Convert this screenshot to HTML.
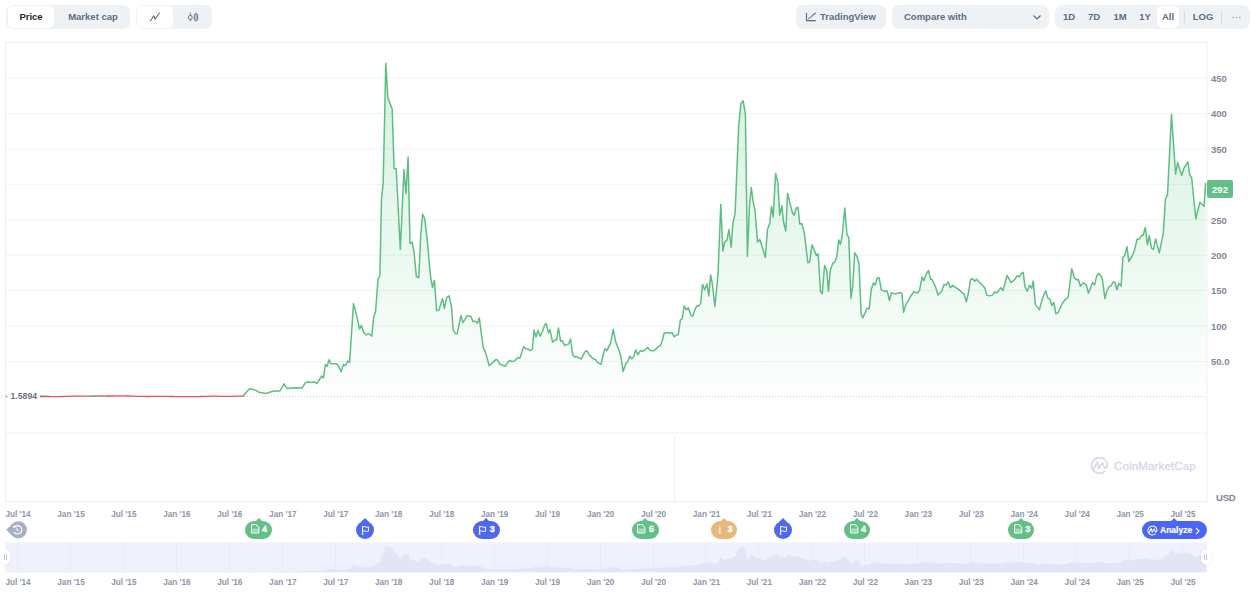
<!DOCTYPE html>
<html><head><meta charset="utf-8"><style>
*{box-sizing:border-box;margin:0;padding:0}
html,body{width:1250px;height:612px;overflow:hidden;background:#fff;font-family:"Liberation Sans",sans-serif}
.abs{position:absolute}
.grp{position:absolute;top:5px;height:24px;background:#eff2f5;border-radius:7px}
.btn{position:absolute;top:1px;height:22px;border-radius:5px;font-size:9.5px;font-weight:bold;color:#5e6b82;line-height:22px;text-align:center}
.on{background:#fff}
.yl{position:absolute;left:1211px;font-size:9.5px;font-weight:bold;color:#7f8799;line-height:12px}
.xl{position:absolute;width:40px;text-align:center;font-size:8.2px;font-weight:bold;color:#8e95a8;line-height:12px}
.mk{position:absolute;top:520.5px;height:18.5px;border-radius:9.25px;color:#fff}
.mk b{position:absolute;top:-0.6px;font-weight:bold;font-size:9px;line-height:19px;-webkit-text-stroke:0.35px #fff}
.ptr{position:absolute;top:517.5px;width:0;height:0;border-left:4px solid transparent;border-right:4px solid transparent;border-bottom:4.5px solid}
.ii{position:absolute;top:0;font-weight:bold;font-size:10px;line-height:19px;color:rgba(255,255,255,0.75)}
</style></head><body>
<div class="grp" style="left:6px;width:124px">
  <div class="btn on" style="left:2px;width:46px;color:#222531">Price</div>
  <div class="btn" style="left:54px;width:66px">Market cap</div>
</div>
<div class="grp" style="left:136px;width:76px">
  <div class="btn on" style="left:1px;width:36px"><svg class="abs" style="left:0;top:0" width="36" height="22" viewBox="0 0 36 22"><path d="M13.5 14.8 L16.7 9.8 L18.1 13.2 L22.3 7" fill="none" stroke="#58667e" stroke-width="1.1" stroke-linejoin="round" stroke-linecap="round"/></svg></div>
  <div class="btn" style="left:40px;width:34px"><svg class="abs" style="left:0;top:0" width="34" height="22" viewBox="0 0 34 22"><g stroke="#6b768c" stroke-width="1"><rect x="12.6" y="9.6" width="3.4" height="3.8" rx="1" fill="none"/><path d="M14.3 6.6 V9.6 M14.3 13.4 V15.4"/><rect x="18.3" y="8.2" width="3.4" height="6.2" rx="1" fill="#b9bfcb"/><path d="M20 6.6 V8.2 M20 14.4 V15.4"/></g></svg></div>
</div>

<div class="grp" style="left:796px;width:90px">
  <svg class="abs" style="left:9px;top:6px" width="12" height="12" viewBox="0 0 12 12"><path d="M1.5 2 V9.6 H10.8" fill="none" stroke="#58667e" stroke-width="1.1"/><path d="M3.2 7.6 C5.2 7.6 6.2 6.2 7.2 4.8 C8.1 3.4 8.9 2.4 10.8 2.4" fill="none" stroke="#58667e" stroke-width="1.1"/></svg>
  <div class="btn" style="left:24px;width:60px;text-align:left">TradingView</div>
</div>
<div class="grp" style="left:892px;width:157px">
  <div class="btn" style="left:12px;width:80px;text-align:left">Compare with</div>
  <svg class="abs" style="left:140px;top:9px" width="10" height="7" viewBox="0 0 10 7"><path d="M1.5 1.5 L5 5 L8.5 1.5" fill="none" stroke="#58667e" stroke-width="1.2"/></svg>
</div>
<div class="grp" style="left:1055px;width:195px">
  <div class="btn" style="left:5px;width:18px">1D</div>
  <div class="btn" style="left:30px;width:18px">7D</div>
  <div class="btn" style="left:55px;width:20px">1M</div>
  <div class="btn" style="left:81px;width:18px">1Y</div>
  <div class="btn on" style="left:102px;width:22px">All</div>
  <div class="abs" style="left:129px;top:6px;width:1px;height:12px;background:#d5dae3"></div>
  <div class="btn" style="left:134px;width:28px">LOG</div>
  <div class="abs" style="left:166px;top:6px;width:1px;height:12px;background:#d5dae3"></div>
  <svg class="abs" style="left:177px;top:11px" width="10" height="3" viewBox="0 0 10 3"><circle cx="1.3" cy="1.5" r="0.8" fill="#8a93a6"/><circle cx="4.6" cy="1.5" r="0.8" fill="#8a93a6"/><circle cx="7.9" cy="1.5" r="0.8" fill="#8a93a6"/></svg>
</div>

<svg class="abs" style="left:0;top:0" width="1250" height="612">
  <defs>
    <linearGradient id="gf" x1="0" y1="60" x2="0" y2="396.5" gradientUnits="userSpaceOnUse">
      <stop offset="0" stop-color="#27b866" stop-opacity="0.20"/>
      <stop offset="1" stop-color="#27b866" stop-opacity="0.01"/>
    </linearGradient>
    <filter id="sh" x="-50%" y="-50%" width="200%" height="200%"><feDropShadow dx="0" dy="0.5" stdDeviation="1" flood-color="#000" flood-opacity="0.12"/></filter>
  </defs>
  <rect x="5.5" y="42.5" width="1201.5" height="459" fill="none" stroke="#eeeeee" stroke-width="1"/>
  <g stroke="#f2f2f2" stroke-width="1"><line x1="6" x2="1207" y1="78.08" y2="78.08"/><line x1="6" x2="1207" y1="113.50" y2="113.50"/><line x1="6" x2="1207" y1="148.92" y2="148.92"/><line x1="6" x2="1207" y1="184.34" y2="184.34"/><line x1="6" x2="1207" y1="219.76" y2="219.76"/><line x1="6" x2="1207" y1="255.18" y2="255.18"/><line x1="6" x2="1207" y1="290.60" y2="290.60"/><line x1="6" x2="1207" y1="326.02" y2="326.02"/><line x1="6" x2="1207" y1="361.44" y2="361.44"/>
  <line x1="6" x2="1207" y1="432.9" y2="432.9"/></g>
  <path d="M243.5 395.2 L249.8 388.6 L256 390.4 L258.8 392.2 L266 393.6 L268.7 392.5 L274 391 L280 391 L284 383.9 L287.2 388.6 L292 388 L296.5 387.7 L302 388 L305.5 382.6 L309 381.7 L311.8 382.6 L313.6 381.7 L317.2 383.2 L321.7 376 L323.5 377.8 L325.3 364.6 L327.1 366.4 L329 359.8 L331 363.7 L336 363.7 L338 365.2 L341.2 371.8 L343.3 364.6 L345.5 365.5 L347.8 361 L349.6 362.3 L353.5 303.6 L357.1 317.1 L359.5 329 L361.4 325.4 L363.8 332.5 L366.1 334.9 L368.5 333.7 L371.8 336.1 L373.7 317.1 L375.6 311.2 L378 279.2 L379.9 275.6 L381.5 199.1 L383.2 183 L385.8 63.3 L387.9 97.7 L392.2 109 L394.1 168.8 L396.2 168.8 L400.3 249.5 L404 169.5 L406 193.7 L408.1 157 L410 243.6 L412.1 242 L414 251.9 L416.4 276.8 L418.8 277.5 L420.7 235.3 L422.6 214 L424.7 218.7 L427 237.7 L430.6 276.8 L432.5 287.5 L434.4 280.4 L436.6 310.7 L438.9 310 L442.5 298.6 L444.4 308.4 L446.7 297.4 L449.1 295.8 L451.5 306.5 L453.2 330.2 L455.5 333.7 L457.2 333.7 L461 315.5 L462.9 322.6 L465 319.4 L467.2 315.7 L470.9 316.5 L473.1 321.6 L475.3 321.3 L477.5 323.1 L479.3 317.9 L481.2 332.6 L483.4 348.1 L485.3 351.8 L489.3 365.7 L492.9 362.4 L495.9 359.6 L497.6 359.9 L500 364.3 L502.5 365.3 L505.4 366.2 L507.9 361.8 L509.9 360.3 L512.1 361.6 L515 360.6 L517.9 357.6 L520.1 357.9 L522.4 350.3 L523.8 346.6 L526 348.8 L528.2 349.1 L530.4 350.7 L532.4 348.8 L534.1 330.1 L536 337.1 L537.9 330.4 L540.3 336.3 L542.6 331.2 L544.7 325 L546.2 323.5 L548.5 332.9 L550 329.7 L552.5 342.2 L554.7 340 L556.6 340 L558.4 327.9 L560.6 341.2 L562.4 340.7 L564.7 345.6 L567.2 344.4 L568.7 344.1 L570.6 339 L572.6 354.4 L575 357.2 L576.8 356.6 L581.2 359.1 L584.9 351.8 L586.8 350.7 L589.7 355.4 L593.7 359.1 L595.6 359.6 L597.4 362.4 L601 364.3 L603.2 354.7 L605 348.8 L606.9 350.6 L610.6 342.9 L613.2 329.5 L615.7 341.9 L619.3 350.8 L621.1 358 L623.1 371.5 L625.8 363.4 L627.6 362 L629.8 356.2 L631.9 358.9 L633.7 356.6 L635.7 349.9 L637.8 354.8 L640.2 350.8 L643.2 351.2 L647.7 347.6 L650.4 350.5 L654 350.8 L658.1 346.9 L660.3 345.8 L662.1 341 L664.2 332.9 L667.8 332.5 L670.2 333.2 L672 332.5 L674.3 336.8 L676.8 334.7 L678.3 334.7 L680.4 319.9 L682.2 318.9 L684.2 305.9 L686.3 309.9 L688.3 307.7 L690.8 314.9 L692.6 316.3 L695.3 308.6 L697.1 305.6 L698.9 305.9 L700.7 303.2 L702.5 284.4 L704.7 289.8 L707 284 L708.8 296 L710.6 275 L712.2 283 L714.9 306.5 L716.9 286.2 L718.1 272.6 L720.8 204.4 L722.9 251.1 L724.7 242.1 L727.1 239.9 L728.9 229.5 L731.2 247.1 L733 222.3 L735.1 213.4 L738.7 125.9 L740.9 103.5 L743.2 100.8 L745.4 114.3 L747.4 256.5 L749.5 204.4 L751.3 187.5 L753.1 201.7 L754.9 209.8 L757.6 242.1 L759.8 239.4 L762.1 246.6 L765.3 257.4 L767.5 229.5 L769.8 223.2 L771.4 206.5 L773.2 216.9 L775.6 173.5 L777.9 182.5 L779.7 215.1 L781.9 205.8 L783.6 222.3 L785.8 231 L787.6 193.3 L789.9 202.6 L792.3 212.5 L794.1 215.1 L796.2 208 L798 207.4 L799.8 224.1 L802 223.8 L804.3 233.1 L807.9 262.7 L809.7 261.9 L812 244.8 L815.1 252 L816.3 255.6 L818.1 253.8 L820.5 291.5 L822.3 293.8 L824.6 265.4 L826.7 270.1 L828.4 291.4 L830.3 270.1 L833.1 262.7 L834.6 262.2 L836.7 256.9 L838.8 239.9 L840.5 244.6 L842.4 234 L844.8 208.1 L846.9 234 L848.8 237.8 L850.9 298.2 L852.6 287.1 L854.7 252.7 L856.9 256.3 L859 263.7 L861.1 313.7 L862.8 317.9 L867.1 308.3 L869.2 308.8 L871.3 289.2 L873.4 282.9 L875.1 285 L877.3 278 L879.2 277.8 L881.3 289.7 L884.5 291.4 L887.2 290.9 L889.4 300.5 L891.5 292.8 L895.1 293.9 L898.3 293.1 L900.4 292.8 L901.9 293.5 L903.6 312.2 L906.2 303.5 L908.3 300.9 L910.4 296.7 L913.8 291.8 L917.4 293.1 L919.5 290.3 L922.1 277.1 L923.8 280.7 L926.6 273.3 L928.5 270.5 L930.6 279 L932.3 279.7 L935.5 287.1 L938 295 L941.8 290.9 L944 284.6 L946.1 285 L948.2 281.8 L950.3 287.7 L952.5 285.4 L956.7 288.2 L960.5 290.9 L962.2 292.9 L964.1 294.1 L966.3 301.8 L968.1 294.4 L970.6 279.7 L972.5 278.5 L974.7 281.2 L976.5 279.4 L978.4 281.2 L981.3 284.1 L984.7 287.8 L986.9 295.1 L989.4 295.9 L992.4 295.1 L995 291.8 L996.8 292.9 L1000.9 287.8 L1003.1 290.4 L1007.1 275.3 L1011.2 282.6 L1014.4 279.7 L1017.4 275.7 L1019.1 276.8 L1021.5 273.1 L1023.2 272.4 L1025 287.1 L1027.4 291.2 L1029.4 285.3 L1031.8 288.2 L1033.2 280.9 L1035.3 304.4 L1039.4 309.6 L1042.4 298.8 L1045.6 290.7 L1047.9 298.1 L1049.7 299.1 L1051.9 305.4 L1053.8 302.5 L1055.9 313.8 L1058.2 312.4 L1062.2 303.5 L1065.9 298.8 L1068.1 297.6 L1071.8 268.7 L1074.4 277.9 L1076.5 279.7 L1078.4 279.4 L1080.3 286.3 L1082.8 283.1 L1085.3 283.8 L1086.8 286.3 L1088.4 293.2 L1090.9 287.1 L1092.4 282.6 L1094.6 284.9 L1096.8 275.7 L1098.6 273.6 L1101.3 276.3 L1102.5 279.8 L1104.9 298.7 L1106.7 291.5 L1109 286.7 L1110.8 286.1 L1113 282 L1115.1 282.5 L1116.9 289.7 L1118.9 283.4 L1121.1 286.1 L1122.9 257.4 L1124.6 255.6 L1127 246.6 L1128.8 261.5 L1131.8 256.5 L1134.5 250.2 L1137.2 238.9 L1139 239.4 L1141.4 235.8 L1143.2 235.3 L1145.3 227.4 L1147.5 244.8 L1149.3 235.8 L1151.6 248.4 L1153.4 249.3 L1155.6 238.9 L1159.3 252.9 L1161.1 243.9 L1163.3 233.5 L1165.4 199 L1167.5 194.8 L1171.5 114.4 L1175.6 174.3 L1177.6 162.6 L1181.7 175.5 L1184.1 167.8 L1187.9 161.8 L1189.7 174.3 L1191.7 178.2 L1195.8 218.7 L1199.9 202.3 L1204.1 206.2 L1205.6 183.1 L1205.6 396.5 L243.5 396.5 Z" fill="url(#gf)"/>
  <line x1="40" x2="1207" y1="396.5" y2="396.5" stroke="#cfd1d8" stroke-width="1" stroke-dasharray="1 2"/>
  <line x1="674.5" x2="674.5" y1="436" y2="501" stroke="#eef0f6" stroke-width="1"/>
  <path d="M40 396.5 L44 396.6 L48 396.6 L52 396.7 L56 396.6 L60 396.6 L64 396.4 L68 396.3 L72 396.2 L76 396.1 L80 396.1 L84 396.1 L88 396.1 L92 396.2 L96 396.2 L100 396.2 L104 396.1 L108 396 L112 396 L116 395.9 L120 395.9 L124 395.9 L128 396 L132 396.1 L136 396.3 L140 396.4 L144 396.4 L148 396.5 L152 396.4 L156 396.4 L160 396.4 L164 396.4 L168 396.4 L172 396.5 L176 396.6 L180 396.7 L184 396.7 L188 396.7 L192 396.7 L196 396.6 L200 396.5 L204 396.3 L208 396.3 L212 396.2 L216 396.2 L220 396.3 L224 396.3 L228 396.3 L232 396.3 L236 396.2 L240 396.1 L244 396 L243.5 395.6" fill="none" stroke="#e0584a" stroke-width="1.3" stroke-linejoin="round"/>
  <path d="M40 395.7 L49 395.9 M90 396 L103 395.9" fill="none" stroke="#5bbb7f" stroke-width="1" opacity="0.8"/>
  <path d="M243.5 395.2 L249.8 388.6 L256 390.4 L258.8 392.2 L266 393.6 L268.7 392.5 L274 391 L280 391 L284 383.9 L287.2 388.6 L292 388 L296.5 387.7 L302 388 L305.5 382.6 L309 381.7 L311.8 382.6 L313.6 381.7 L317.2 383.2 L321.7 376 L323.5 377.8 L325.3 364.6 L327.1 366.4 L329 359.8 L331 363.7 L336 363.7 L338 365.2 L341.2 371.8 L343.3 364.6 L345.5 365.5 L347.8 361 L349.6 362.3 L353.5 303.6 L357.1 317.1 L359.5 329 L361.4 325.4 L363.8 332.5 L366.1 334.9 L368.5 333.7 L371.8 336.1 L373.7 317.1 L375.6 311.2 L378 279.2 L379.9 275.6 L381.5 199.1 L383.2 183 L385.8 63.3 L387.9 97.7 L392.2 109 L394.1 168.8 L396.2 168.8 L400.3 249.5 L404 169.5 L406 193.7 L408.1 157 L410 243.6 L412.1 242 L414 251.9 L416.4 276.8 L418.8 277.5 L420.7 235.3 L422.6 214 L424.7 218.7 L427 237.7 L430.6 276.8 L432.5 287.5 L434.4 280.4 L436.6 310.7 L438.9 310 L442.5 298.6 L444.4 308.4 L446.7 297.4 L449.1 295.8 L451.5 306.5 L453.2 330.2 L455.5 333.7 L457.2 333.7 L461 315.5 L462.9 322.6 L465 319.4 L467.2 315.7 L470.9 316.5 L473.1 321.6 L475.3 321.3 L477.5 323.1 L479.3 317.9 L481.2 332.6 L483.4 348.1 L485.3 351.8 L489.3 365.7 L492.9 362.4 L495.9 359.6 L497.6 359.9 L500 364.3 L502.5 365.3 L505.4 366.2 L507.9 361.8 L509.9 360.3 L512.1 361.6 L515 360.6 L517.9 357.6 L520.1 357.9 L522.4 350.3 L523.8 346.6 L526 348.8 L528.2 349.1 L530.4 350.7 L532.4 348.8 L534.1 330.1 L536 337.1 L537.9 330.4 L540.3 336.3 L542.6 331.2 L544.7 325 L546.2 323.5 L548.5 332.9 L550 329.7 L552.5 342.2 L554.7 340 L556.6 340 L558.4 327.9 L560.6 341.2 L562.4 340.7 L564.7 345.6 L567.2 344.4 L568.7 344.1 L570.6 339 L572.6 354.4 L575 357.2 L576.8 356.6 L581.2 359.1 L584.9 351.8 L586.8 350.7 L589.7 355.4 L593.7 359.1 L595.6 359.6 L597.4 362.4 L601 364.3 L603.2 354.7 L605 348.8 L606.9 350.6 L610.6 342.9 L613.2 329.5 L615.7 341.9 L619.3 350.8 L621.1 358 L623.1 371.5 L625.8 363.4 L627.6 362 L629.8 356.2 L631.9 358.9 L633.7 356.6 L635.7 349.9 L637.8 354.8 L640.2 350.8 L643.2 351.2 L647.7 347.6 L650.4 350.5 L654 350.8 L658.1 346.9 L660.3 345.8 L662.1 341 L664.2 332.9 L667.8 332.5 L670.2 333.2 L672 332.5 L674.3 336.8 L676.8 334.7 L678.3 334.7 L680.4 319.9 L682.2 318.9 L684.2 305.9 L686.3 309.9 L688.3 307.7 L690.8 314.9 L692.6 316.3 L695.3 308.6 L697.1 305.6 L698.9 305.9 L700.7 303.2 L702.5 284.4 L704.7 289.8 L707 284 L708.8 296 L710.6 275 L712.2 283 L714.9 306.5 L716.9 286.2 L718.1 272.6 L720.8 204.4 L722.9 251.1 L724.7 242.1 L727.1 239.9 L728.9 229.5 L731.2 247.1 L733 222.3 L735.1 213.4 L738.7 125.9 L740.9 103.5 L743.2 100.8 L745.4 114.3 L747.4 256.5 L749.5 204.4 L751.3 187.5 L753.1 201.7 L754.9 209.8 L757.6 242.1 L759.8 239.4 L762.1 246.6 L765.3 257.4 L767.5 229.5 L769.8 223.2 L771.4 206.5 L773.2 216.9 L775.6 173.5 L777.9 182.5 L779.7 215.1 L781.9 205.8 L783.6 222.3 L785.8 231 L787.6 193.3 L789.9 202.6 L792.3 212.5 L794.1 215.1 L796.2 208 L798 207.4 L799.8 224.1 L802 223.8 L804.3 233.1 L807.9 262.7 L809.7 261.9 L812 244.8 L815.1 252 L816.3 255.6 L818.1 253.8 L820.5 291.5 L822.3 293.8 L824.6 265.4 L826.7 270.1 L828.4 291.4 L830.3 270.1 L833.1 262.7 L834.6 262.2 L836.7 256.9 L838.8 239.9 L840.5 244.6 L842.4 234 L844.8 208.1 L846.9 234 L848.8 237.8 L850.9 298.2 L852.6 287.1 L854.7 252.7 L856.9 256.3 L859 263.7 L861.1 313.7 L862.8 317.9 L867.1 308.3 L869.2 308.8 L871.3 289.2 L873.4 282.9 L875.1 285 L877.3 278 L879.2 277.8 L881.3 289.7 L884.5 291.4 L887.2 290.9 L889.4 300.5 L891.5 292.8 L895.1 293.9 L898.3 293.1 L900.4 292.8 L901.9 293.5 L903.6 312.2 L906.2 303.5 L908.3 300.9 L910.4 296.7 L913.8 291.8 L917.4 293.1 L919.5 290.3 L922.1 277.1 L923.8 280.7 L926.6 273.3 L928.5 270.5 L930.6 279 L932.3 279.7 L935.5 287.1 L938 295 L941.8 290.9 L944 284.6 L946.1 285 L948.2 281.8 L950.3 287.7 L952.5 285.4 L956.7 288.2 L960.5 290.9 L962.2 292.9 L964.1 294.1 L966.3 301.8 L968.1 294.4 L970.6 279.7 L972.5 278.5 L974.7 281.2 L976.5 279.4 L978.4 281.2 L981.3 284.1 L984.7 287.8 L986.9 295.1 L989.4 295.9 L992.4 295.1 L995 291.8 L996.8 292.9 L1000.9 287.8 L1003.1 290.4 L1007.1 275.3 L1011.2 282.6 L1014.4 279.7 L1017.4 275.7 L1019.1 276.8 L1021.5 273.1 L1023.2 272.4 L1025 287.1 L1027.4 291.2 L1029.4 285.3 L1031.8 288.2 L1033.2 280.9 L1035.3 304.4 L1039.4 309.6 L1042.4 298.8 L1045.6 290.7 L1047.9 298.1 L1049.7 299.1 L1051.9 305.4 L1053.8 302.5 L1055.9 313.8 L1058.2 312.4 L1062.2 303.5 L1065.9 298.8 L1068.1 297.6 L1071.8 268.7 L1074.4 277.9 L1076.5 279.7 L1078.4 279.4 L1080.3 286.3 L1082.8 283.1 L1085.3 283.8 L1086.8 286.3 L1088.4 293.2 L1090.9 287.1 L1092.4 282.6 L1094.6 284.9 L1096.8 275.7 L1098.6 273.6 L1101.3 276.3 L1102.5 279.8 L1104.9 298.7 L1106.7 291.5 L1109 286.7 L1110.8 286.1 L1113 282 L1115.1 282.5 L1116.9 289.7 L1118.9 283.4 L1121.1 286.1 L1122.9 257.4 L1124.6 255.6 L1127 246.6 L1128.8 261.5 L1131.8 256.5 L1134.5 250.2 L1137.2 238.9 L1139 239.4 L1141.4 235.8 L1143.2 235.3 L1145.3 227.4 L1147.5 244.8 L1149.3 235.8 L1151.6 248.4 L1153.4 249.3 L1155.6 238.9 L1159.3 252.9 L1161.1 243.9 L1163.3 233.5 L1165.4 199 L1167.5 194.8 L1171.5 114.4 L1175.6 174.3 L1177.6 162.6 L1181.7 175.5 L1184.1 167.8 L1187.9 161.8 L1189.7 174.3 L1191.7 178.2 L1195.8 218.7 L1199.9 202.3 L1204.1 206.2 L1205.6 183.1" fill="none" stroke="#5ebe82" stroke-width="1.5" stroke-linejoin="round"/>
  <circle cx="6.5" cy="396.5" r="1" fill="#9ca3af"/>
  <rect x="5.5" y="542.5" width="1201.5" height="29.8" fill="#eff1fd"/>
  <g stroke="#e7eaf8" stroke-width="1"><line x1="17.5" x2="17.5" y1="542.5" y2="572.3"/><line x1="70.5" x2="70.5" y1="542.5" y2="572.3"/><line x1="123.5" x2="123.5" y1="542.5" y2="572.3"/><line x1="176.5" x2="176.5" y1="542.5" y2="572.3"/><line x1="229.5" x2="229.5" y1="542.5" y2="572.3"/><line x1="282.5" x2="282.5" y1="542.5" y2="572.3"/><line x1="335.5" x2="335.5" y1="542.5" y2="572.3"/><line x1="388.5" x2="388.5" y1="542.5" y2="572.3"/><line x1="441.5" x2="441.5" y1="542.5" y2="572.3"/><line x1="494.5" x2="494.5" y1="542.5" y2="572.3"/><line x1="547.5" x2="547.5" y1="542.5" y2="572.3"/><line x1="600.5" x2="600.5" y1="542.5" y2="572.3"/><line x1="653.5" x2="653.5" y1="542.5" y2="572.3"/><line x1="705.5" x2="705.5" y1="542.5" y2="572.3"/><line x1="758.5" x2="758.5" y1="542.5" y2="572.3"/><line x1="811.5" x2="811.5" y1="542.5" y2="572.3"/><line x1="864.5" x2="864.5" y1="542.5" y2="572.3"/><line x1="917.5" x2="917.5" y1="542.5" y2="572.3"/><line x1="970.5" x2="970.5" y1="542.5" y2="572.3"/><line x1="1023.5" x2="1023.5" y1="542.5" y2="572.3"/><line x1="1076.5" x2="1076.5" y1="542.5" y2="572.3"/><line x1="1129.5" x2="1129.5" y1="542.5" y2="572.3"/><line x1="1182.5" x2="1182.5" y1="542.5" y2="572.3"/></g>
  <path d="M6 572.3 L6 572.10 L243.5 572.10 L243.5 572.19 L249.8 571.63 L256 571.79 L258.8 571.94 L266 572.06 L268.7 571.96 L274 571.84 L280 571.84 L284 571.24 L287.2 571.63 L292 571.58 L296.5 571.56 L302 571.58 L305.5 571.13 L309 571.05 L311.8 571.13 L313.6 571.05 L317.2 571.18 L321.7 570.57 L323.5 570.72 L325.3 569.61 L327.1 569.76 L329 569.20 L331 569.53 L336 569.53 L338 569.66 L341.2 570.22 L343.3 569.61 L345.5 569.68 L347.8 569.30 L349.6 569.41 L353.5 564.46 L357.1 565.60 L359.5 566.60 L361.4 566.30 L363.8 566.90 L366.1 567.10 L368.5 567.00 L371.8 567.20 L373.7 565.60 L375.6 565.10 L378 562.40 L379.9 562.10 L381.5 555.64 L383.2 554.28 L385.8 544.18 L387.9 547.08 L392.2 548.03 L394.1 553.08 L396.2 553.08 L400.3 559.89 L404 553.14 L406 555.18 L408.1 552.09 L410 559.40 L412.1 559.26 L414 560.10 L416.4 562.20 L418.8 562.26 L420.7 558.69 L422.6 556.90 L424.7 557.29 L427 558.90 L430.6 562.20 L432.5 563.10 L434.4 562.50 L436.6 565.06 L438.9 565.00 L442.5 564.04 L444.4 564.86 L446.7 563.94 L449.1 563.80 L451.5 564.70 L453.2 566.70 L455.5 567.00 L457.2 567.00 L461 565.46 L462.9 566.06 L465 565.79 L467.2 565.48 L470.9 565.55 L473.1 565.98 L475.3 565.95 L477.5 566.11 L479.3 565.67 L481.2 566.91 L483.4 568.22 L485.3 568.53 L489.3 569.70 L492.9 569.42 L495.9 569.19 L497.6 569.21 L500 569.58 L502.5 569.67 L505.4 569.74 L507.9 569.37 L509.9 569.24 L512.1 569.35 L515 569.27 L517.9 569.02 L520.1 569.04 L522.4 568.40 L523.8 568.09 L526 568.27 L528.2 568.30 L530.4 568.43 L532.4 568.27 L534.1 566.70 L536 567.29 L537.9 566.72 L540.3 567.22 L542.6 566.79 L544.7 566.27 L546.2 566.14 L548.5 566.93 L550 566.66 L552.5 567.72 L554.7 567.53 L556.6 567.53 L558.4 566.51 L560.6 567.63 L562.4 567.59 L564.7 568.00 L567.2 567.90 L568.7 567.88 L570.6 567.45 L572.6 568.75 L575 568.98 L576.8 568.93 L581.2 569.14 L584.9 568.53 L586.8 568.43 L589.7 568.83 L593.7 569.14 L595.6 569.19 L597.4 569.42 L601 569.58 L603.2 568.77 L605 568.27 L606.9 568.43 L610.6 567.78 L613.2 566.65 L615.7 567.69 L619.3 568.44 L621.1 569.05 L623.1 570.19 L625.8 569.51 L627.6 569.39 L629.8 568.90 L631.9 569.13 L633.7 568.93 L635.7 568.37 L637.8 568.78 L640.2 568.44 L643.2 568.48 L647.7 568.17 L650.4 568.42 L654 568.44 L658.1 568.11 L660.3 568.02 L662.1 567.62 L664.2 566.93 L667.8 566.90 L670.2 566.96 L672 566.90 L674.3 567.26 L676.8 567.08 L678.3 567.08 L680.4 565.83 L682.2 565.75 L684.2 564.65 L686.3 564.99 L688.3 564.81 L690.8 565.41 L692.6 565.53 L695.3 564.88 L697.1 564.63 L698.9 564.65 L700.7 564.43 L702.5 562.84 L704.7 563.29 L707 562.80 L708.8 563.82 L710.6 562.05 L712.2 562.72 L714.9 564.70 L716.9 562.99 L718.1 561.84 L720.8 556.09 L722.9 560.03 L724.7 559.27 L727.1 559.08 L728.9 558.21 L731.2 559.69 L733 557.60 L735.1 556.85 L738.7 549.46 L740.9 547.57 L743.2 547.34 L745.4 548.48 L747.4 560.48 L749.5 556.09 L751.3 554.66 L753.1 555.86 L754.9 556.54 L757.6 559.27 L759.8 559.04 L762.1 559.65 L765.3 560.56 L767.5 558.21 L769.8 557.67 L771.4 556.26 L773.2 557.14 L775.6 553.48 L777.9 554.24 L779.7 556.99 L781.9 556.20 L783.6 557.60 L785.8 558.33 L787.6 555.15 L789.9 555.93 L792.3 556.77 L794.1 556.99 L796.2 556.39 L798 556.34 L799.8 557.75 L802 557.72 L804.3 558.51 L807.9 561.01 L809.7 560.94 L812 559.50 L815.1 560.10 L816.3 560.41 L818.1 560.26 L820.5 563.44 L822.3 563.63 L824.6 561.24 L826.7 561.63 L828.4 563.43 L830.3 561.63 L833.1 561.01 L834.6 560.97 L836.7 560.52 L838.8 559.08 L840.5 559.48 L842.4 558.58 L844.8 556.40 L846.9 558.58 L848.8 558.91 L850.9 564.00 L852.6 563.07 L854.7 560.16 L856.9 560.47 L859 561.09 L861.1 565.31 L862.8 565.67 L867.1 564.86 L869.2 564.90 L871.3 563.24 L873.4 562.71 L875.1 562.89 L877.3 562.30 L879.2 562.28 L881.3 563.29 L884.5 563.43 L887.2 563.39 L889.4 564.20 L891.5 563.55 L895.1 563.64 L898.3 563.57 L900.4 563.55 L901.9 563.61 L903.6 565.19 L906.2 564.45 L908.3 564.23 L910.4 563.88 L913.8 563.46 L917.4 563.57 L919.5 563.34 L922.1 562.22 L923.8 562.53 L926.6 561.90 L928.5 561.67 L930.6 562.38 L932.3 562.44 L935.5 563.07 L938 563.73 L941.8 563.39 L944 562.86 L946.1 562.89 L948.2 562.62 L950.3 563.12 L952.5 562.92 L956.7 563.16 L960.5 563.39 L962.2 563.56 L964.1 563.66 L966.3 564.31 L968.1 563.68 L970.6 562.44 L972.5 562.34 L974.7 562.57 L976.5 562.42 L978.4 562.57 L981.3 562.81 L984.7 563.13 L986.9 563.74 L989.4 563.81 L992.4 563.74 L995 563.46 L996.8 563.56 L1000.9 563.13 L1003.1 563.35 L1007.1 562.07 L1011.2 562.69 L1014.4 562.44 L1017.4 562.10 L1019.1 562.20 L1021.5 561.89 L1023.2 561.83 L1025 563.07 L1027.4 563.41 L1029.4 562.91 L1031.8 563.16 L1033.2 562.54 L1035.3 564.53 L1039.4 564.97 L1042.4 564.05 L1045.6 563.37 L1047.9 564.00 L1049.7 564.08 L1051.9 564.61 L1053.8 564.37 L1055.9 565.32 L1058.2 565.20 L1062.2 564.45 L1065.9 564.05 L1068.1 563.95 L1071.8 561.51 L1074.4 562.29 L1076.5 562.44 L1078.4 562.42 L1080.3 563.00 L1082.8 562.73 L1085.3 562.79 L1086.8 563.00 L1088.4 563.58 L1090.9 563.07 L1092.4 562.69 L1094.6 562.88 L1096.8 562.10 L1098.6 561.93 L1101.3 562.16 L1102.5 562.45 L1104.9 564.05 L1106.7 563.44 L1109 563.03 L1110.8 562.98 L1113 562.64 L1115.1 562.68 L1116.9 563.29 L1118.9 562.75 L1121.1 562.98 L1122.9 560.56 L1124.6 560.41 L1127 559.65 L1128.8 560.91 L1131.8 560.48 L1134.5 559.95 L1137.2 559.00 L1139 559.04 L1141.4 558.74 L1143.2 558.69 L1145.3 558.03 L1147.5 559.50 L1149.3 558.74 L1151.6 559.80 L1153.4 559.88 L1155.6 559.00 L1159.3 560.18 L1161.1 559.42 L1163.3 558.54 L1165.4 555.63 L1167.5 555.28 L1171.5 548.49 L1175.6 553.55 L1177.6 552.56 L1181.7 553.65 L1184.1 553.00 L1187.9 552.49 L1189.7 553.55 L1191.7 553.88 L1195.8 557.29 L1199.9 555.91 L1204.1 556.24 L1205.6 554.29 L1205.6 572.3 Z" fill="#dfe3f3" opacity="0.9"/>
  <g transform="translate(1099.5,465.5)" fill="none" stroke="#d6dae8" stroke-width="1.7">
    <path d="M5.6 5.6 A7.9 7.9 0 1 1 7.9 0.3"/>
    <path d="M-6.6 4.2 L-2 -3.3 L-0.6 3 L2.9 -2.8 L4.9 2.1 Q5.9 3.8 7.9 0.3" stroke-linejoin="round" stroke-linecap="round"/>
  </g>
  <g transform="translate(18.2,529.8)">
    <path d="M-11.9 0 L-6.1 -5.9 A8.6 8.6 0 1 1 -6.1 5.9 Z" fill="#a7afc4"/>
    <g transform="translate(-0.6,0)"><path d="M-3.3 -2.6 A4.2 4.2 0 1 1 -3.6 2.3" fill="none" stroke="#fff" stroke-width="1.1"/>
    <path d="M-5.2 -3.2 L-2.6 -1.2 L-2.2 -4.2 Z" fill="#fff"/>
    <path d="M-0.6 -2.3 V0.2 L1.4 1.5" fill="none" stroke="#fff" stroke-width="1"/></g>
  </g>
  <rect x="0.5" y="549.5" width="10" height="15" rx="5" fill="#fff" filter="url(#sh)"/>
  <line x1="4.5" x2="4.5" y1="554" y2="560" stroke="#c5cad6"/><line x1="6.5" x2="6.5" y1="554" y2="560" stroke="#c5cad6"/>
  <rect x="1201" y="549.5" width="10" height="15" rx="5" fill="#fff" filter="url(#sh)"/>
  <line x1="1204.5" x2="1204.5" y1="554" y2="560" stroke="#c5cad6"/><line x1="1206.5" x2="1206.5" y1="554" y2="560" stroke="#c5cad6"/>
</svg>

<div class="abs" style="left:10.5px;top:389.5px;font-size:8.7px;font-weight:bold;color:#6b7385;line-height:12px">1.5894</div>
<div class="yl" style="top:72.9px">450</div><div class="yl" style="top:108.3px">400</div><div class="yl" style="top:143.7px">350</div><div class="yl" style="top:214.6px">250</div><div class="yl" style="top:250.0px">200</div><div class="yl" style="top:285.4px">150</div><div class="yl" style="top:320.8px">100</div><div class="yl" style="top:356.2px">50.0</div>
<div class="abs" style="left:1207px;top:180px;width:26px;height:18px;border-radius:2px;background:#62bf86;color:#fff;font-size:9.5px;font-weight:bold;line-height:19.5px;text-align:center">292</div>
<div class="abs" style="left:1114px;top:459px;font-size:11.5px;color:#d3d8e6;line-height:14px;letter-spacing:0.15px;-webkit-text-stroke:0.3px #d3d8e6">CoinMarketCap</div>
<div class="abs" style="left:1216px;top:491.5px;font-size:9.6px;font-weight:bold;color:#7d8598;line-height:12px;letter-spacing:-0.3px">USD</div>
<div class="xl" style="left:-2.0px;top:508.5px">Jul '14</div><div class="xl" style="left:51.0px;top:508.5px">Jan '15</div><div class="xl" style="left:103.9px;top:508.5px">Jul '15</div><div class="xl" style="left:156.9px;top:508.5px">Jan '16</div><div class="xl" style="left:209.8px;top:508.5px">Jul '16</div><div class="xl" style="left:262.8px;top:508.5px">Jan '17</div><div class="xl" style="left:315.8px;top:508.5px">Jul '17</div><div class="xl" style="left:368.7px;top:508.5px">Jan '18</div><div class="xl" style="left:421.7px;top:508.5px">Jul '18</div><div class="xl" style="left:474.6px;top:508.5px">Jan '19</div><div class="xl" style="left:527.6px;top:508.5px">Jul '19</div><div class="xl" style="left:580.6px;top:508.5px">Jan '20</div><div class="xl" style="left:633.5px;top:508.5px">Jul '20</div><div class="xl" style="left:686.5px;top:508.5px">Jan '21</div><div class="xl" style="left:739.4px;top:508.5px">Jul '21</div><div class="xl" style="left:792.4px;top:508.5px">Jan '22</div><div class="xl" style="left:845.4px;top:508.5px">Jul '22</div><div class="xl" style="left:898.3px;top:508.5px">Jan '23</div><div class="xl" style="left:951.3px;top:508.5px">Jul '23</div><div class="xl" style="left:1004.2px;top:508.5px">Jan '24</div><div class="xl" style="left:1057.2px;top:508.5px">Jul '24</div><div class="xl" style="left:1110.2px;top:508.5px">Jan '25</div><div class="xl" style="left:1163.1px;top:508.5px">Jul '25</div>
<div class="xl" style="left:-2.0px;top:576.5px">Jul '14</div><div class="xl" style="left:51.0px;top:576.5px">Jan '15</div><div class="xl" style="left:103.9px;top:576.5px">Jul '15</div><div class="xl" style="left:156.9px;top:576.5px">Jan '16</div><div class="xl" style="left:209.8px;top:576.5px">Jul '16</div><div class="xl" style="left:262.8px;top:576.5px">Jan '17</div><div class="xl" style="left:315.8px;top:576.5px">Jul '17</div><div class="xl" style="left:368.7px;top:576.5px">Jan '18</div><div class="xl" style="left:421.7px;top:576.5px">Jul '18</div><div class="xl" style="left:474.6px;top:576.5px">Jan '19</div><div class="xl" style="left:527.6px;top:576.5px">Jul '19</div><div class="xl" style="left:580.6px;top:576.5px">Jan '20</div><div class="xl" style="left:633.5px;top:576.5px">Jul '20</div><div class="xl" style="left:686.5px;top:576.5px">Jan '21</div><div class="xl" style="left:739.4px;top:576.5px">Jul '21</div><div class="xl" style="left:792.4px;top:576.5px">Jan '22</div><div class="xl" style="left:845.4px;top:576.5px">Jul '22</div><div class="xl" style="left:898.3px;top:576.5px">Jan '23</div><div class="xl" style="left:951.3px;top:576.5px">Jul '23</div><div class="xl" style="left:1004.2px;top:576.5px">Jan '24</div><div class="xl" style="left:1057.2px;top:576.5px">Jul '24</div><div class="xl" style="left:1110.2px;top:576.5px">Jan '25</div><div class="xl" style="left:1163.1px;top:576.5px">Jul '25</div>
<div class="ptr" style="left:254.5px;border-bottom-color:#62bf86"></div><div class="mk" style="left:245.0px;width:27px;background:#62bf86"><svg class="abs" style="left:5.5px;top:3.6px" width="9" height="10" viewBox="0 0 9 10"><path d="M0.6 0.6 H5.2 L7.8 3.2 V9 H0.6 Z" fill="none" stroke="#fff" stroke-width="1" stroke-linejoin="miter"/><rect x="1.5" y="4.5" width="5.4" height="3.7" fill="rgba(255,255,255,0.45)"/><circle cx="5.9" cy="2" r="0.6" fill="#fff"/></svg><b style="left:17.0px">4</b></div><div class="ptr" style="left:360.8px;border-bottom-color:#5068ee"></div><div class="mk" style="left:355.8px;width:18px;background:#5068ee"><svg class="abs" style="left:4.8px;top:4px" width="9" height="11" viewBox="0 0 9 11"><path d="M1.6 9.2 V1.2" stroke="#fff" stroke-width="1" fill="none"/><path d="M0.7 9.2 H2.5" stroke="#fff" stroke-width="0.9"/><path d="M1.6 1.9 Q3.2 1.1 4.6 1.9 T7.5 1.9 V6.2 Q6 6.9 4.6 6.2 T1.6 6.2" stroke="#fff" stroke-width="0.95" fill="none"/></svg></div><div class="ptr" style="left:482.3px;border-bottom-color:#5068ee"></div><div class="mk" style="left:472.8px;width:27px;background:#5068ee"><svg class="abs" style="left:4.8px;top:4px" width="9" height="11" viewBox="0 0 9 11"><path d="M1.6 9.2 V1.2" stroke="#fff" stroke-width="1" fill="none"/><path d="M0.7 9.2 H2.5" stroke="#fff" stroke-width="0.9"/><path d="M1.6 1.9 Q3.2 1.1 4.6 1.9 T7.5 1.9 V6.2 Q6 6.9 4.6 6.2 T1.6 6.2" stroke="#fff" stroke-width="0.95" fill="none"/></svg><b style="left:17.0px">3</b></div><div class="ptr" style="left:641.0px;border-bottom-color:#62bf86"></div><div class="mk" style="left:631.5px;width:27px;background:#62bf86"><svg class="abs" style="left:5.5px;top:3.6px" width="9" height="10" viewBox="0 0 9 10"><path d="M0.6 0.6 H5.2 L7.8 3.2 V9 H0.6 Z" fill="none" stroke="#fff" stroke-width="1" stroke-linejoin="miter"/><rect x="1.5" y="4.5" width="5.4" height="3.7" fill="rgba(255,255,255,0.45)"/><circle cx="5.9" cy="2" r="0.6" fill="#fff"/></svg><b style="left:17.5px">5</b></div><div class="ptr" style="left:720.0px;border-bottom-color:#e8b77b"></div><div class="mk" style="left:711.0px;width:26px;background:#e8b77b"><span class="ii" style="left:7.5px">i</span><b style="left:16.5px">3</b></div><div class="ptr" style="left:778.9px;border-bottom-color:#5068ee"></div><div class="mk" style="left:773.9px;width:18px;background:#5068ee"><svg class="abs" style="left:4.8px;top:4px" width="9" height="11" viewBox="0 0 9 11"><path d="M1.6 9.2 V1.2" stroke="#fff" stroke-width="1" fill="none"/><path d="M0.7 9.2 H2.5" stroke="#fff" stroke-width="0.9"/><path d="M1.6 1.9 Q3.2 1.1 4.6 1.9 T7.5 1.9 V6.2 Q6 6.9 4.6 6.2 T1.6 6.2" stroke="#fff" stroke-width="0.95" fill="none"/></svg></div><div class="ptr" style="left:853.1px;border-bottom-color:#62bf86"></div><div class="mk" style="left:844.1px;width:26px;background:#62bf86"><svg class="abs" style="left:5.5px;top:3.6px" width="9" height="10" viewBox="0 0 9 10"><path d="M0.6 0.6 H5.2 L7.8 3.2 V9 H0.6 Z" fill="none" stroke="#fff" stroke-width="1" stroke-linejoin="miter"/><rect x="1.5" y="4.5" width="5.4" height="3.7" fill="rgba(255,255,255,0.45)"/><circle cx="5.9" cy="2" r="0.6" fill="#fff"/></svg><b style="left:17.0px">4</b></div><div class="ptr" style="left:1017.2px;border-bottom-color:#62bf86"></div><div class="mk" style="left:1008.2px;width:26px;background:#62bf86"><svg class="abs" style="left:5.5px;top:3.6px" width="9" height="10" viewBox="0 0 9 10"><path d="M0.6 0.6 H5.2 L7.8 3.2 V9 H0.6 Z" fill="none" stroke="#fff" stroke-width="1" stroke-linejoin="miter"/><rect x="1.5" y="4.5" width="5.4" height="3.7" fill="rgba(255,255,255,0.45)"/><circle cx="5.9" cy="2" r="0.6" fill="#fff"/></svg><b style="left:17.0px">3</b></div>
<div class="ptr" style="left:1170px;border-bottom-color:#4d65f3;top:517.5px"></div>
<div class="abs" style="left:1142px;top:521px;width:65px;height:18px;border-radius:9px;background:#4d65f3;color:#fff;font-size:8.5px;font-weight:bold;line-height:18.5px;-webkit-text-stroke:0.2px #fff">
  <svg class="abs" style="left:5.4px;top:3.6px" width="11" height="11" viewBox="-5.5 -5.5 11 11"><g transform="scale(0.57)" fill="none" stroke="#fff" stroke-width="1.8"><path d="M5.6 5.6 A7.9 7.9 0 1 1 7.9 0.3"/><path d="M-6.6 4.2 L-2 -3.3 L-0.6 3 L2.9 -2.8 L4.9 2.1 Q5.9 3.8 7.9 0.3" stroke-linejoin="round" stroke-linecap="round"/></g></svg>
  <span class="abs" style="left:18px;top:0">Analyze</span>
  <svg class="abs" style="left:52.5px;top:5.5px" width="5" height="8" viewBox="0 0 5 8"><path d="M1 0.8 L4 4 L1 7.2" fill="none" stroke="#fff" stroke-width="1.1"/></svg>
</div>
</body></html>
